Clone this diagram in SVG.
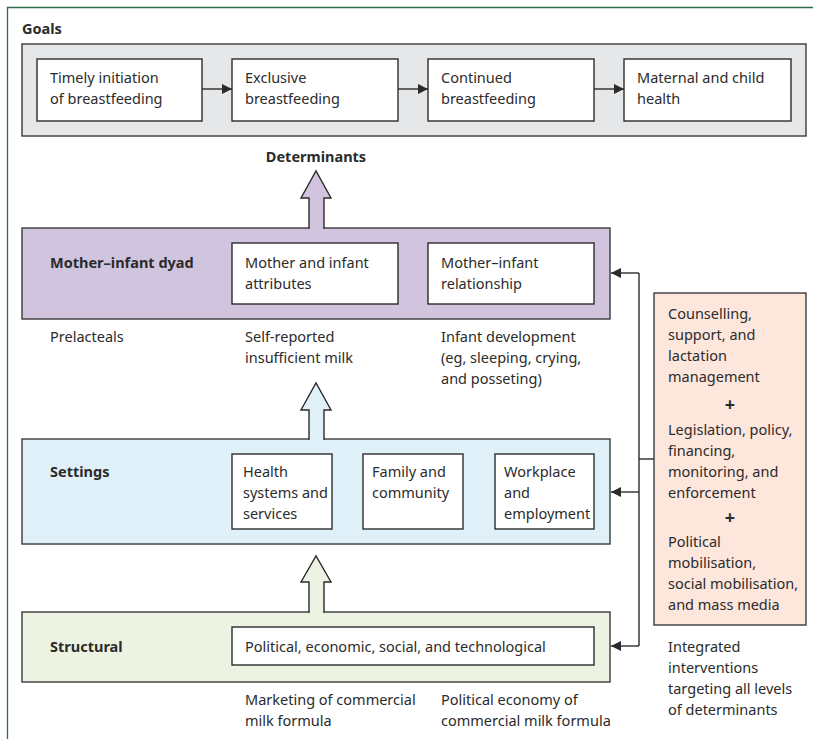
<svg xmlns="http://www.w3.org/2000/svg" width="813" height="739" viewBox="0 0 813 739">
<style>
  text { font-family: "Noto Sans", "Open Sans", sans-serif; font-size: 14.5px; fill: #2b2b2b; }
  .b { font-weight: bold; }
  .plus { font-weight: bold; font-size: 18px; }
  .panel { stroke: #3a3a3a; stroke-width: 1.4; }
  .box { fill: #ffffff; stroke: #2b2b2b; stroke-width: 1.4; }
  .conn { fill: none; stroke: #2b2b2b; stroke-width: 1.4; }
  .big { stroke: #2b2b2b; stroke-width: 1.4; stroke-linejoin: miter; }
</style>
<defs>
  <marker id="ah" viewBox="0 0 10 10" refX="10" refY="5" markerWidth="10" markerHeight="10" markerUnits="userSpaceOnUse" orient="auto">
    <path d="M0,0 L10,5 L0,10 z" fill="#2b2b2b"/>
  </marker>
</defs>

<!-- frame -->
<path d="M7.5,739 L7.5,7.5 L813,7.5" fill="none" stroke="#2e6b48" stroke-width="1.3"/>

<!-- Goals -->
<g id="goals">
  <text x="22" y="34" class="b">Goals</text>
  <rect x="22" y="44" width="784" height="92" fill="#e6e7e9" class="panel"/>
  <g id="goal1"><rect x="37" y="59" width="165" height="62" class="box"/>
    <text x="50" y="83">Timely initiation</text><text x="50" y="104">of breastfeeding</text></g>
  <g id="goal2"><rect x="232" y="59" width="166" height="62" class="box"/>
    <text x="245" y="83">Exclusive</text><text x="245" y="104">breastfeeding</text></g>
  <g id="goal3"><rect x="428" y="59" width="166" height="62" class="box"/>
    <text x="441" y="83">Continued</text><text x="441" y="104">breastfeeding</text></g>
  <g id="goal4"><rect x="624" y="59" width="167" height="62" class="box"/>
    <text x="637" y="83">Maternal and child</text><text x="637" y="104">health</text></g>
</g>

<text x="316" y="162" class="b" text-anchor="middle">Determinants</text>

<!-- Mother-infant dyad -->
<g id="dyad">
  <rect x="22" y="228" width="588" height="91" fill="#d1c4df" class="panel"/>
  <text x="50" y="268" class="b">Mother–infant dyad</text>
  <g id="attributes"><rect x="232" y="243" width="166" height="61" class="box"/>
    <text x="245" y="268">Mother and infant</text><text x="245" y="289">attributes</text></g>
  <g id="relationship"><rect x="428" y="243" width="166" height="61" class="box"/>
    <text x="441" y="268">Mother–infant</text><text x="441" y="289">relationship</text></g>
  <text x="50" y="342">Prelacteals</text>
  <text x="245" y="342">Self-reported</text><text x="245" y="363">insufficient milk</text>
  <text x="441" y="342">Infant development</text><text x="441" y="363">(eg, sleeping, crying,</text><text x="441" y="384">and posseting)</text>
</g>

<!-- Settings -->
<g id="settings">
  <rect x="22" y="439" width="588" height="105" fill="#dff0f8" class="panel"/>
  <text x="50" y="477" class="b">Settings</text>
  <g id="health"><rect x="232" y="454" width="100" height="75" class="box"/>
    <text x="243" y="477">Health</text><text x="243" y="498">systems and</text><text x="243" y="519">services</text></g>
  <g id="family"><rect x="363" y="454" width="100" height="75" class="box"/>
    <text x="372" y="477">Family and</text><text x="372" y="498">community</text></g>
  <g id="workplace"><rect x="495" y="454" width="99" height="75" class="box"/>
    <text x="504" y="477">Workplace</text><text x="504" y="498">and</text><text x="504" y="519">employment</text></g>
</g>

<!-- Structural -->
<g id="structural">
  <rect x="22" y="612" width="588" height="70" fill="#ecf3e3" class="panel"/>
  <text x="50" y="652" class="b">Structural</text>
  <g id="pest"><rect x="232" y="627" width="362" height="38" class="box"/>
    <text x="245" y="652">Political, economic, social, and technological</text></g>
  <text x="245" y="705">Marketing of commercial</text><text x="245" y="726">milk formula</text>
  <text x="441" y="705">Political economy of</text><text x="441" y="726">commercial milk formula</text>
</g>

<!-- Interventions -->
<g id="interventions">
  <rect x="654" y="293" width="152" height="332" fill="#fde6dc" class="panel"/>
  <text x="668" y="319">Counselling,</text><text x="668" y="340">support, and</text><text x="668" y="361">lactation</text><text x="668" y="382">management</text>
  <text x="730" y="411" class="plus" text-anchor="middle">+</text>
  <text x="668" y="435">Legislation, policy,</text><text x="668" y="456">financing,</text><text x="668" y="477">monitoring, and</text><text x="668" y="498">enforcement</text>
  <text x="730" y="524" class="plus" text-anchor="middle">+</text>
  <text x="668" y="547">Political</text><text x="668" y="568">mobilisation,</text><text x="668" y="589">social mobilisation,</text><text x="668" y="610">and mass media</text>
  <text x="668" y="652">Integrated</text><text x="668" y="673">interventions</text><text x="668" y="694">targeting all levels</text><text x="668" y="715">of determinants</text>
</g>

<!-- connectors -->
<g id="connectors">
  <line x1="202" y1="89" x2="232" y2="89" class="conn" marker-end="url(#ah)"/>
  <line x1="398" y1="89" x2="428" y2="89" class="conn" marker-end="url(#ah)"/>
  <line x1="594" y1="89" x2="624" y2="89" class="conn" marker-end="url(#ah)"/>

  <path d="M309,229 L309,198 L301,198 L316,171 L331,198 L324,198 L324,229" fill="#d1c4df" class="big"/>
  <path d="M309,440 L309,410 L301,410 L316,383 L331,410 L324,410 L324,440" fill="#dff0f8" class="big"/>
  <path d="M309,613 L309,582 L301,582 L316,556 L331,582 L324,582 L324,613" fill="#ecf3e3" class="big"/>

  <path d="M639,646 L639,273" class="conn"/>
  <line x1="639" y1="459" x2="654" y2="459" class="conn"/>
  <line x1="639" y1="273" x2="611" y2="273" class="conn" marker-end="url(#ah)"/>
  <line x1="639" y1="492" x2="611" y2="492" class="conn" marker-end="url(#ah)"/>
  <line x1="639" y1="646" x2="611" y2="646" class="conn" marker-end="url(#ah)"/>
</g>
</svg>
